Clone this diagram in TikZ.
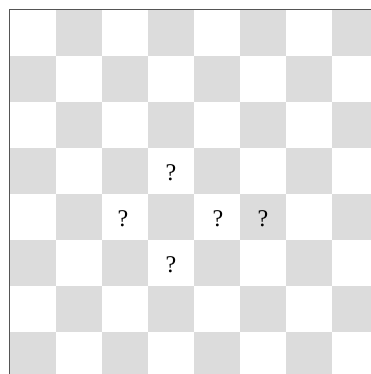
\documentclass[tikz,border=0pt]{standalone}
\usepackage{fontspec}
\setmainfont{Liberation Serif}
\definecolor{sqgray}{RGB}{220,220,220}
\definecolor{framegray}{RGB}{85,85,85}
\begin{document}
\begin{tikzpicture}[x=1pt,y=-1pt,
  qmark/.style={font=\fontsize{24}{24}\selectfont, inner sep=0pt, text=black}]
\useasboundingbox (0,0) rectangle (371,374);
\clip (0,0) rectangle (371,374);
\fill[white] (0,0) rectangle (371,374);
\foreach \r in {0,...,7}{
  \foreach \c in {0,...,7}{
    \pgfmathtruncatemacro\parity{mod(\r+\c,2)}
    \ifnum\parity=1
      \fill[sqgray] ({10+46*\c},{10+46*\r}) rectangle ++(46,46);
    \fi
  }
}
\draw[framegray, line width=1pt] (9.5,9.5) rectangle (378.5,378.5);
\node[qmark] (q33) at (171,173) {?};
\node[qmark] (q42) at (123,219) {?};
\node[qmark] (q44) at (218,219) {?};
\node[qmark] (q45) at (263,219) {?};
\node[qmark] (q53) at (171,265) {?};
\end{tikzpicture}
\end{document}
